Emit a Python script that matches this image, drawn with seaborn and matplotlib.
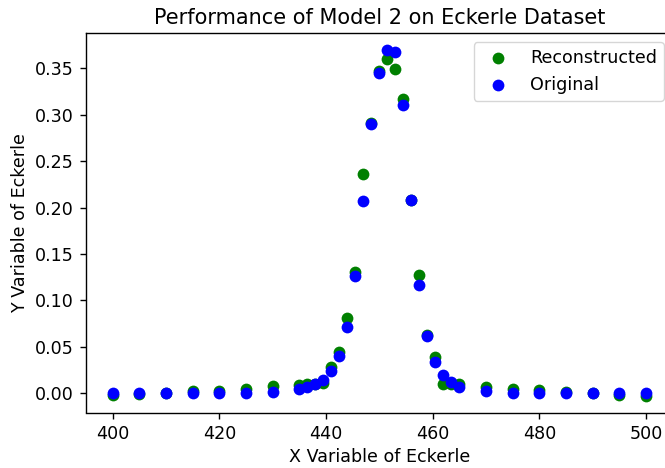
import matplotlib
matplotlib.use("Agg")
import matplotlib.pyplot as plt
import seaborn as sns
import pandas as pd

x_values = [400, 405, 410, 415, 420, 425, 430, 435, 436.5, 438, 439.5, 441,
            442.5, 444, 445.5, 447, 448.5, 450, 451.5, 453, 454.5, 456, 457.5,
            459, 460.5, 462, 463.5, 465, 470, 475, 480, 485, 490, 495, 500]

original_y = [0.0001575, 0.0001699, 0.0002350, 0.0003102, 0.0004917, 0.0008710,
              0.0017418, 0.0046400, 0.0065895, 0.0097302, 0.0149002, 0.0237310,
              0.0401683, 0.0712559, 0.1264458, 0.2073413, 0.2902366, 0.3445623,
              0.3698049, 0.3668534, 0.3106727, 0.2078154, 0.1164354, 0.0616764,
              0.0337200, 0.0194023, 0.0117831, 0.0074357, 0.0022732, 0.0008800,
              0.0004579, 0.0002345, 0.0001586, 0.0001143, 0.0000710]

reconstructed_y = [-0.0022, -0.0003, 0.0005, 0.0022, 0.0025, 0.0052, 0.0075,
                   0.0096, 0.0106, 0.0100, 0.0108, 0.0280, 0.0447, 0.0808,
                   0.1304, 0.2360, 0.2905, 0.3470, 0.3600, 0.3488, 0.3170,
                   0.2078, 0.1275, 0.0630, 0.0388, 0.0105, 0.0098, 0.0104,
                   0.0068, 0.0048, 0.0033, 0.0013, 0.0002, -0.0013, -0.0032]

df_rec = pd.DataFrame({"x": x_values, "y": reconstructed_y})
df_org = pd.DataFrame({"x": x_values, "y": original_y})

fig = plt.figure(figsize=(6.65, 4.68), dpi=100)
ax = fig.add_axes([86 / 665, 1 - 412.5 / 468, (672.7 - 86) / 665, (412.5 - 33.3) / 468])

sns.scatterplot(data=df_rec, x="x", y="y", color="green", s=72, linewidth=0,
                label="Reconstructed", ax=ax)
sns.scatterplot(data=df_org, x="x", y="y", color="blue", s=72, linewidth=0,
                label="Original", ax=ax)

ax.set_title("Performance of Model 2 on Eckerle Dataset", fontsize=15, pad=7)
ax.set_xlabel("X Variable of Eckerle", fontsize=12.6)
ax.set_ylabel("Y Variable of Eckerle", fontsize=12.6)
ax.tick_params(labelsize=12.6, length=4.4, width=1.0, pad=4.4)
for sp in ax.spines.values():
    sp.set_linewidth(1.0)
ax.set_xticks([400, 420, 440, 460, 480, 500])
ax.set_yticks([0.0, 0.05, 0.10, 0.15, 0.20, 0.25, 0.30, 0.35])
ax.yaxis.set_major_formatter(matplotlib.ticker.FormatStrFormatter("%.2f"))
ax.set_xlim(395, 505)
ax.set_ylim(-0.0205, 0.3874)
ax.legend(loc="upper right", fontsize=12.6)

fig.savefig("out.png", dpi=100)
